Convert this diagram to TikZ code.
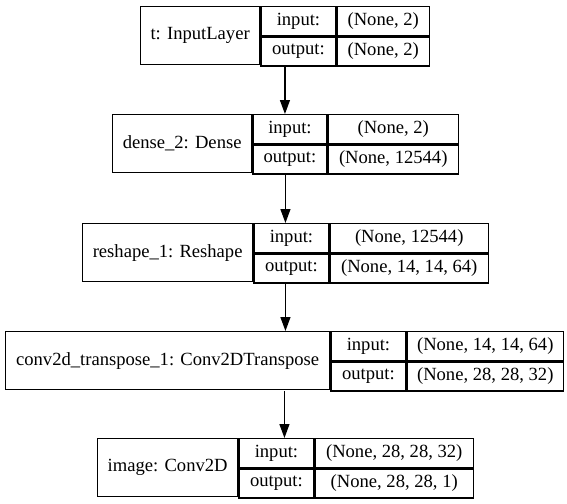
\documentclass[tikz,border=0pt]{standalone}
\usepackage{fontspec}
\setmainfont{Liberation Serif}
\usetikzlibrary{positioning,calc,arrows.meta}

\begin{document}
\begin{tikzpicture}[x=1pt,y=-1pt,
  cell/.style={draw,line width=1.3pt,inner sep=0pt,anchor=north west,font=\fontsize{18.6}{22}\selectfont},
  namecell/.style={cell,minimum height=58pt},
  rowcell/.style={cell,minimum height=29pt},
  arr/.style={line width=1.3pt,-{Triangle[length=14pt,width=10pt]}}]
\useasboundingbox (0,0) rectangle (567,503);

% InputLayer
\node[namecell,minimum width=119pt] (tname) at (140,6) {t: InputLayer};
\node[rowcell,minimum width=75pt] (tin) at (tname.north east) {input:};
\node[rowcell,minimum width=92pt] (tinv) at (tin.north east) {(None, 2)};
\node[rowcell,minimum width=75pt] (tout) at (tin.south west) {output:};
\node[rowcell,minimum width=92pt] (toutv) at (tout.north east) {(None, 2)};
\coordinate (tbot) at ($(tname.south west)!.5!(toutv.south east)$);

% Dense
\node[namecell,minimum width=139pt] (densename) at (112,114) {dense\_2: Dense};
\node[rowcell,minimum width=74pt] (densein) at (densename.north east) {input:};
\node[rowcell,minimum width=130pt] (denseinv) at (densein.north east) {(None, 2)};
\node[rowcell,minimum width=74pt] (denseout) at (densein.south west) {output:};
\node[rowcell,minimum width=130pt] (denseoutv) at (denseout.north east) {(None, 12544)};
\coordinate (densebot) at ($(densename.south west)!.5!(denseoutv.south east)$);

% Reshape
\node[namecell,minimum width=170pt] (reshapename) at (82,223) {reshape\_1: Reshape};
\node[rowcell,minimum width=75pt] (reshapein) at (reshapename.north east) {input:};
\node[rowcell,minimum width=158pt] (reshapeinv) at (reshapein.north east) {(None, 12544)};
\node[rowcell,minimum width=75pt] (reshapeout) at (reshapein.south west) {output:};
\node[rowcell,minimum width=158pt] (reshapeoutv) at (reshapeout.north east) {(None, 14, 14, 64)};
\coordinate (reshapebot) at ($(reshapename.south west)!.5!(reshapeoutv.south east)$);

% Conv2DTranspose
\node[namecell,minimum width=324pt] (deconvname) at (5,331) {conv2d\_transpose\_1: Conv2DTranspose};
\node[rowcell,minimum width=75pt] (deconvin) at (deconvname.north east) {input:};
\node[rowcell,minimum width=156pt] (deconvinv) at (deconvin.north east) {(None, 14, 14, 64)};
\node[rowcell,minimum width=75pt] (deconvout) at (deconvin.south west) {output:};
\node[rowcell,minimum width=156pt] (deconvoutv) at (deconvout.north east) {(None, 28, 28, 32)};
\coordinate (deconvbot) at ($(deconvname.south west)!.5!(deconvoutv.south east)$);

% Conv2D
\node[namecell,minimum width=140pt] (imagename) at (97,438) {image: Conv2D};
\node[rowcell,minimum width=75pt] (imagein) at (imagename.north east) {input:};
\node[rowcell,minimum width=158pt] (imageinv) at (imagein.north east) {(None, 28, 28, 32)};
\node[rowcell,minimum width=75pt] (imageout) at (imagein.south west) {output:};
\node[rowcell,minimum width=158pt] (imageoutv) at (imageout.north east) {(None, 28, 28, 1)};

% Arrows
\draw[arr] (tbot) -- (tbot |- densename.north);
\draw[arr] (densebot) -- (densebot |- reshapename.north);
\draw[arr] (reshapebot) -- (reshapebot |- deconvname.north);
\draw[arr] (deconvbot) -- (deconvbot |- imagename.north);
\end{tikzpicture}
\end{document}
